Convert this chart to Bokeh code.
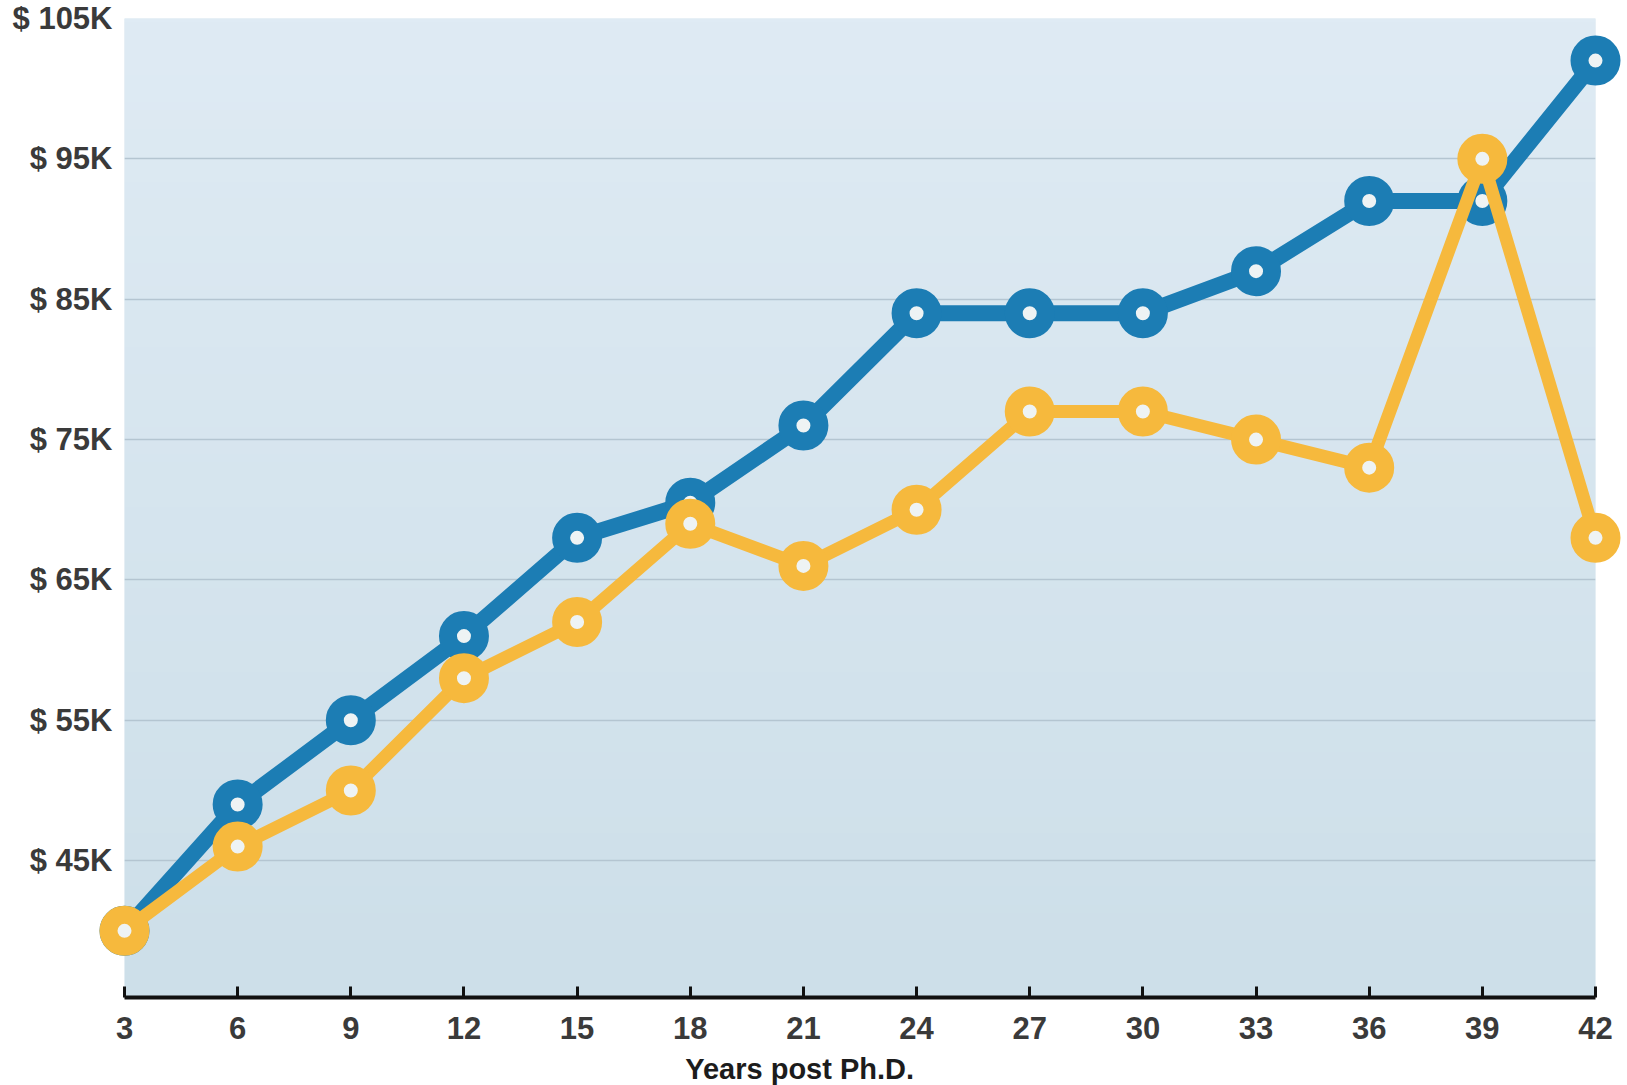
import numpy as np
from bokeh.plotting import figure
from bokeh.models import Range1d, FixedTicker
from bokeh.core.properties import value
from bokeh.embed import file_html
from bokeh.resources import INLINE

# Salary by years after the doctorate (thousands of dollars)
years = [3, 6, 9, 12, 15, 18, 21, 24, 27, 30, 33, 36, 39, 42]
salary_blue = [40, 49, 55, 61, 68, 70.5, 76, 84, 84, 84, 87, 92, 92, 102]
salary_gold = [40, 46, 50, 58, 62, 69, 66, 70, 77, 77, 75, 73, 95, 68]

y_ticks = [45, 55, 65, 75, 85, 95, 105]
y_tick_labels = ["$ 45K", "$ 55K", "$ 65K", "$ 75K", "$ 85K", "$ 95K", "$ 105K"]
grid_levels = [45, 55, 65, 75, 85, 95]
x_title = "Years post Ph.D."

BLUE = "#1c7db4"
GOLD = "#f6b93d"
FONT = "Liberation Sans"

y_lo, y_hi = 35.25, 105
FRAME_H = 1085 - 18 - 88
PX_PER_UNIT = FRAME_H / (y_hi - y_lo)

p = figure(width=1627, height=1085, output_backend="svg", toolbar_location=None,
           x_range=Range1d(years[0], years[-1]), y_range=Range1d(y_lo, y_hi),
           min_border_left=124, min_border_right=32,
           min_border_top=18, min_border_bottom=88)
p.background_fill_color = "#d7e6ef"
p.border_fill_color = "white"
p.outline_line_color = None

# soft vertical gradient behind the plot area
rows = 256
t = np.linspace(0, 1, rows)[:, None]
bottom = np.array([0xcd, 0xdf, 0xe9])
top = np.array([0xdf, 0xeb, 0xf4])
rgb = (bottom + (top - bottom) * t).astype(np.uint32)
img = np.empty((rows, 1), dtype=np.uint32)
view = img.view(dtype=np.uint8).reshape((rows, 1, 4))
view[:, 0, 0] = rgb[:, 0]
view[:, 0, 1] = rgb[:, 1]
view[:, 0, 2] = rgb[:, 2]
view[:, 0, 3] = 255
p.image_rgba(image=[img], x=years[0], y=y_lo, dw=years[-1] - years[0], dh=y_hi - y_lo,
             level="image")

# grid
p.xgrid.visible = False
p.ygrid.ticker = FixedTicker(ticks=grid_levels)
p.ygrid.grid_line_color = "#b4c5d1"
p.ygrid.grid_line_width = 1.5

# y axis: labels only
p.yaxis.ticker = FixedTicker(ticks=y_ticks)
p.yaxis.major_label_overrides = dict(zip(y_ticks, y_tick_labels))
p.yaxis.axis_line_color = None
p.yaxis.major_tick_line_color = None
p.yaxis.minor_tick_line_color = None
p.yaxis.major_label_standoff = 6
p.yaxis.major_label_text_font = FONT
p.yaxis.major_label_text_font_style = "bold"
p.yaxis.major_label_text_font_size = "31px"
p.yaxis.major_label_text_color = "#3a3a3a"

# x axis
p.xaxis.ticker = FixedTicker(ticks=years)
p.xaxis.axis_line_color = "#111111"
p.xaxis.axis_line_width = 4
p.xaxis.major_tick_in = 11
p.xaxis.major_tick_out = 0
p.xaxis.major_tick_line_width = 3
p.xaxis.major_tick_line_color = "#111111"
p.xaxis.minor_tick_line_color = None
p.xaxis.major_label_standoff = 19
p.xaxis.major_label_text_font = FONT
p.xaxis.major_label_text_font_style = "bold"
p.xaxis.major_label_text_font_size = "31px"
p.xaxis.major_label_text_color = "#3a3a3a"

# x-axis title, set a little left of centre under the axis
p.text(x=[20.9], y=[y_lo - 71 / PX_PER_UNIT], text=[x_title],
       text_align="center", text_baseline="middle",
       text_font=value(FONT), text_font_style="bold",
       text_font_size="29px", text_color="#1c1c1c", level="overlay")

# series: thick lines with ring markers
for values, color, lw in ((salary_blue, BLUE, 16), (salary_gold, GOLD, 13)):
    p.line(years, values, line_width=lw, line_color=color, line_join="round",
           line_cap="round", level="overlay")
    p.scatter(years, values, size=32, line_width=18, line_color=color,
              fill_color="#eef3f4", level="overlay")

open("out.html", "w").write(file_html(p, INLINE))
